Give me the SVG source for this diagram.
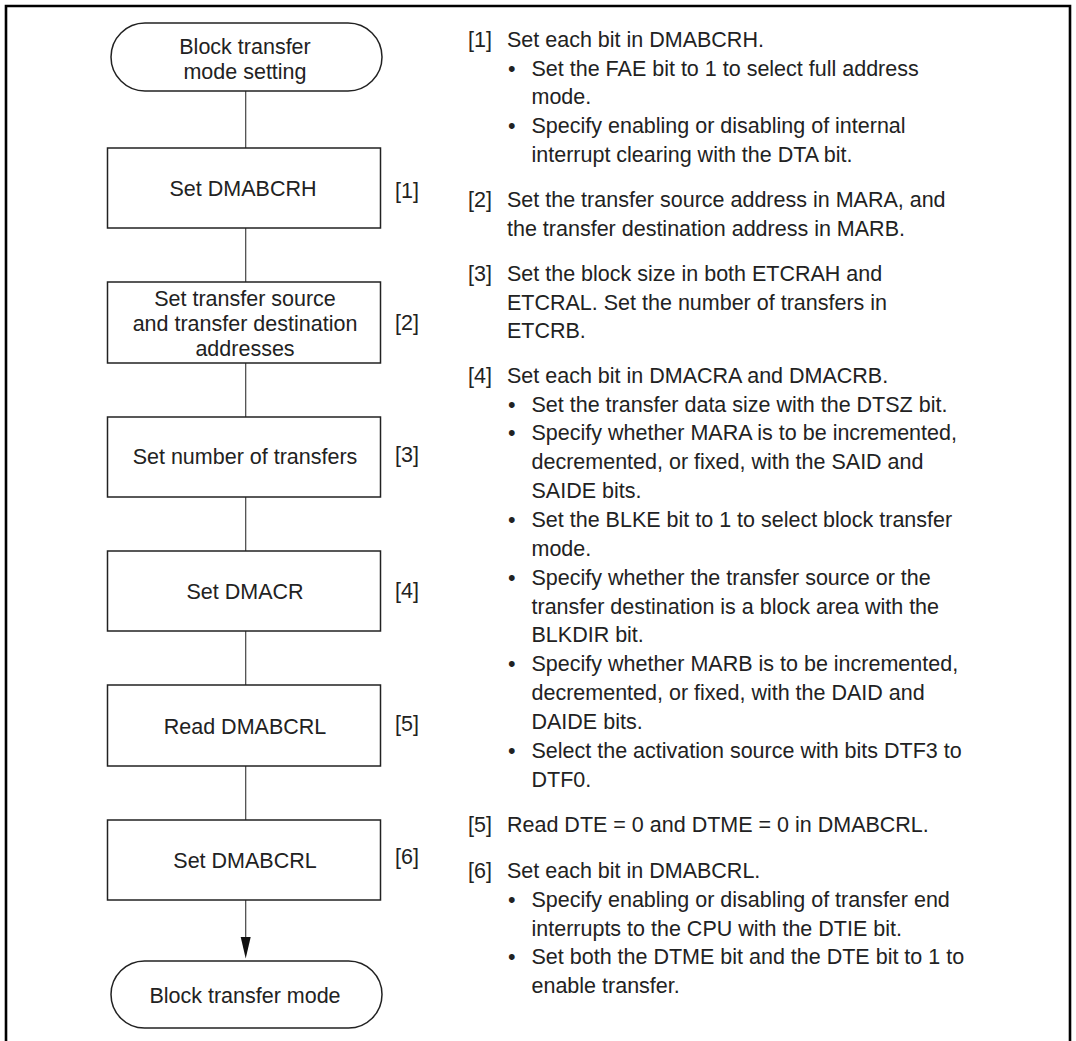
<svg xmlns="http://www.w3.org/2000/svg" width="1076" height="1041" viewBox="0 0 1076 1041">
<defs>
<style>
text{font-family:"Liberation Sans",Arial,Helvetica,sans-serif;font-size:21.5px;fill:#222}
.c{text-anchor:middle}
.shape{fill:#fff;stroke:#222;stroke-width:1.5}
.conn{stroke:#444;stroke-width:1.2;fill:none}
.frame{fill:none;stroke:#000;stroke-width:2.6}
</style>
<marker id="arr" markerUnits="userSpaceOnUse" markerWidth="12" markerHeight="22" refX="5" refY="21" orient="auto-start-reverse" viewBox="0 0 10 21">
<path d="M0,0 L10,0 L5,21 Z" fill="#111" transform="rotate(0)"/>
</marker>
</defs>
<rect width="1076" height="1041" fill="#fff"/>
<path class="frame" d="M6,1041 V6 H1070 V1041"/>

<g id="connectors">
<line class="conn" x1="245.7" y1="91" x2="245.7" y2="148"/>
<line class="conn" x1="245.7" y1="228" x2="245.7" y2="282"/>
<line class="conn" x1="245.7" y1="363" x2="245.7" y2="417"/>
<line class="conn" x1="245.7" y1="497" x2="245.7" y2="551"/>
<line class="conn" x1="245.7" y1="631" x2="245.7" y2="685"/>
<line class="conn" x1="245.7" y1="766" x2="245.7" y2="820"/>
<line class="conn" x1="245.7" y1="900" x2="245.7" y2="938"/>
<path d="M240.7,937 L250.7,937 L245.7,958.5 Z" fill="#111"/>
</g>

<g id="start">
<rect class="shape" x="111" y="23" width="271" height="68" rx="34" ry="34"/>
<text class="c" x="245" y="54">Block transfer</text>
<text class="c" x="245" y="79">mode setting</text>
</g>
<g id="step1">
<rect class="shape" x="107.5" y="148" width="273" height="80"/>
<text class="c" x="243" y="196">Set DMABCRH</text>
<text x="395" y="197.5">[1]</text>
</g>
<g id="step2">
<rect class="shape" x="107.5" y="282" width="273" height="81"/>
<text class="c" x="245" y="306">Set transfer source</text>
<text class="c" x="245" y="331">and transfer destination</text>
<text class="c" x="245" y="356">addresses</text>
<text x="395" y="330">[2]</text>
</g>
<g id="step3">
<rect class="shape" x="107.5" y="417" width="273" height="80"/>
<text class="c" x="245" y="464">Set number of transfers</text>
<text x="395" y="462">[3]</text>
</g>
<g id="step4">
<rect class="shape" x="107.5" y="551" width="273" height="80"/>
<text class="c" x="245" y="599">Set DMACR</text>
<text x="395" y="597.5">[4]</text>
</g>
<g id="step5">
<rect class="shape" x="107.5" y="685" width="273" height="81"/>
<text class="c" x="245" y="734">Read DMABCRL</text>
<text x="395" y="731">[5]</text>
</g>
<g id="step6">
<rect class="shape" x="107.5" y="820" width="273" height="80"/>
<text class="c" x="245" y="868">Set DMABCRL</text>
<text x="395" y="863.5">[6]</text>
</g>
<g id="end">
<rect class="shape" x="111" y="961" width="271" height="67" rx="33.5" ry="33.5"/>
<text class="c" x="245" y="1002.5">Block transfer mode</text>
</g>

<g id="notes">
<text x="468" y="47">[1]</text><text x="507" y="47">Set each bit in DMABCRH.</text>
<text x="508" y="75.7">•</text><text x="531.5" y="75.7">Set the FAE bit to 1 to select full address</text>
<text x="531.5" y="104.4">mode.</text>
<text x="508" y="133.1">•</text><text x="531.5" y="133.1">Specify enabling or disabling of internal</text>
<text x="531.5" y="161.8">interrupt clearing with the DTA bit.</text>

<text x="468" y="207.3">[2]</text><text x="507" y="207.3">Set the transfer source address in MARA, and</text>
<text x="507" y="236">the transfer destination address in MARB.</text>

<text x="468" y="281">[3]</text><text x="507" y="281">Set the block size in both ETCRAH and</text>
<text x="507" y="309.7">ETCRAL. Set the number of transfers in</text>
<text x="507" y="338.4">ETCRB.</text>

<text x="468" y="382.7">[4]</text><text x="507" y="382.7">Set each bit in DMACRA and DMACRB.</text>
<text x="508" y="411.6">•</text><text x="531.5" y="411.6">Set the transfer data size with the DTSZ bit.</text>
<text x="508" y="440.4">•</text><text x="531.5" y="440.4">Specify whether MARA is to be incremented,</text>
<text x="531.5" y="469.3">decremented, or fixed, with the SAID and</text>
<text x="531.5" y="498.1">SAIDE bits.</text>
<text x="508" y="527">•</text><text x="531.5" y="527">Set the BLKE bit to 1 to select block transfer</text>
<text x="531.5" y="555.9">mode.</text>
<text x="508" y="584.7">•</text><text x="531.5" y="584.7">Specify whether the transfer source or the</text>
<text x="531.5" y="613.6">transfer destination is a block area with the</text>
<text x="531.5" y="642.4">BLKDIR bit.</text>
<text x="508" y="671.3">•</text><text x="531.5" y="671.3">Specify whether MARB is to be incremented,</text>
<text x="531.5" y="700.2">decremented, or fixed, with the DAID and</text>
<text x="531.5" y="729">DAIDE bits.</text>
<text x="508" y="757.9">•</text><text x="531.5" y="757.9">Select the activation source with bits DTF3 to</text>
<text x="531.5" y="786.7">DTF0.</text>

<text x="468" y="832">[5]</text><text x="507" y="832">Read DTE = 0 and DTME = 0 in DMABCRL.</text>

<text x="468" y="878">[6]</text><text x="507" y="878">Set each bit in DMABCRL.</text>
<text x="508" y="906.8">•</text><text x="531.5" y="906.8">Specify enabling or disabling of transfer end</text>
<text x="531.5" y="935.6">interrupts to the CPU with the DTIE bit.</text>
<text x="508" y="964.4">•</text><text x="531.5" y="964.4">Set both the DTME bit and the DTE bit to 1 to</text>
<text x="531.5" y="993.2">enable transfer.</text>
</g>
</svg>
